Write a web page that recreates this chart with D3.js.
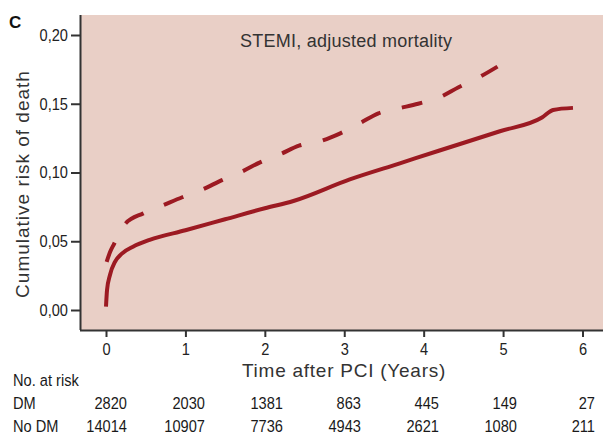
<!DOCTYPE html>
<html>
<head>
<meta charset="utf-8">
<script src="https://cdn.jsdelivr.net/npm/d3@7"></script>
<style>
  body { margin: 0; background: #fff; }
  #chart { font-family: "Liberation Sans", Arial, sans-serif; }
  .axis text { font-size: 17px; fill: #222; }
  .axis line, .axis .domain { stroke: #333; stroke-width: 2px; }
  .wide { fill: #333; }
  .line { fill: none; stroke: #9c1a22; stroke-width: 4px; }
  .risk text { font-size: 17px; fill: #1a1a1a; }
</style>
</head>
<body>
<svg id="chart" width="603" height="435"></svg>
<script>
// cumulative risk
const dmTime  = [0.008, 0.05, 0.105, 0.17, 0.24, 0.47, 0.71, 0.96, 1.22, 1.46, 1.71, 1.94, 2.2, 2.43, 2.71, 2.95, 3.2, 3.43, 3.69, 3.93, 4.2, 4.44, 4.69, 4.93];
const dmRisk  = [0.035, 0.042, 0.0485, 0.057, 0.0625, 0.0703, 0.076, 0.082, 0.0878, 0.0945, 0.1006, 0.1074, 0.1135, 0.1195, 0.123, 0.1285, 0.136, 0.143, 0.1467, 0.150, 0.1547, 0.162, 0.169, 0.177];
const noDmTime = [0, 0.013, 0.05, 0.113, 0.2, 0.34, 0.55, 1.0, 1.5, 2.0, 2.36, 3.07, 3.7, 4.2, 4.96, 5.49, 5.63, 5.88];
const noDmRisk = [0.0024, 0.0145, 0.0255, 0.035, 0.041, 0.046, 0.051, 0.058, 0.066, 0.074, 0.0793, 0.095, 0.1067, 0.116, 0.130, 0.140, 0.1455, 0.147];

const xTicks = [0, 1, 2, 3, 4, 5, 6];
const yTicks = [0, 0.05, 0.10, 0.15, 0.20];
const dmAtRisk = [2820, 2030, 1381, 863, 445, 149, 27];
const noDmAtRisk = [14014, 10907, 7736, 4943, 2621, 1080, 211];

const svg = d3.select('#chart');
const plot = {left: 80, top: 15, right: 603, bottom: 330};
const narrow = 0.86;   // the original uses a condensed face

const x = d3.scaleLinear().domain([0, 6]).range([106, 582.5]);
const y = d3.scaleLinear().domain([0, 0.20]).range([310, 35]);
// right edges of the at-risk columns
const col = d3.scaleLinear().domain([0, 6]).range([127, 595]);

svg.append('rect')
    .attr('x', plot.left).attr('y', plot.top)
    .attr('width', plot.right - plot.left).attr('height', plot.bottom - plot.top)
    .attr('fill', '#e9cfc6');

const fmt = d => d3.format('.2f')(d).replace('.', ',');

function squeeze(sel) {
    sel.each(function() {
        let t = d3.select(this);
        let tx = +t.attr('x') || 0, ty = +t.attr('y') || 0;
        t.attr('x', 0).attr('y', 0)
         .attr('transform', 'translate(' + tx + ',' + ty + ') scale(' + narrow + ',1)');
    });
}

let yAxis = svg.append('g').attr('class', 'axis')
    .attr('transform', 'translate(' + plot.left + ',0)')
    .call(d3.axisLeft(y).tickValues(yTicks).tickFormat(fmt).tickSize(9).tickPadding(3).tickSizeOuter(0));
yAxis.select('.domain').attr('d', 'M0.5,' + plot.top + 'V' + plot.bottom);
yAxis.selectAll('text').call(squeeze);

let xAxis = svg.append('g').attr('class', 'axis')
    .attr('transform', 'translate(0,' + plot.bottom + ')')
    .call(d3.axisBottom(x).tickValues(xTicks).tickFormat(d3.format('d')).tickSize(7).tickPadding(6).tickSizeOuter(0));
xAxis.select('.domain').attr('d', 'M' + plot.left + ',0.5H' + plot.right);
xAxis.selectAll('text').call(squeeze);

const line = d3.line()
    .x(d => x(d[0]))
    .y(d => y(d[1]))
    .curve(d3.curveMonotoneX);

svg.append('path').attr('class', 'line')
    .attr('d', line(d3.zip(noDmTime, noDmRisk)));
svg.append('path').attr('class', 'line')
    .attr('stroke-dasharray', '21,22')
    .attr('d', line(d3.zip(dmTime, dmRisk)));

// titles
svg.append('text')
    .attr('x', 9).attr('y', 28)
    .style('font-size', '17px').style('font-weight', 'bold').attr('fill', '#111')
    .text('C');
svg.append('text').attr('class', 'wide')
    .attr('x', 240).attr('y', 47)
    .style('font-size', '18px').style('letter-spacing', '0.25px')
    .text('STEMI, adjusted mortality');
svg.append('text').attr('class', 'wide')
    .attr('x', 344).attr('y', 377).attr('text-anchor', 'middle')
    .style('font-size', '19px').style('letter-spacing', '0.75px')
    .text('Time after PCI (Years)');
svg.append('text').attr('class', 'wide')
    .attr('transform', 'translate(29,184) rotate(-90)')
    .attr('text-anchor', 'middle')
    .style('font-size', '19px').style('letter-spacing', '1px')
    .text('Cumulative risk of death');

// number at risk table
const risk = svg.append('g').attr('class', 'risk');
risk.append('text').attr('x', 13).attr('y', 386).text('No. at risk');
risk.append('text').attr('x', 13).attr('y', 409).text('DM');
risk.append('text').attr('x', 13).attr('y', 432).text('No DM');
risk.selectAll('text.dm').data(dmAtRisk).enter()
    .append('text').attr('class', 'dm')
    .attr('text-anchor', 'end')
    .attr('x', (d, i) => col(xTicks[i]))
    .attr('y', 409)
    .text(d => d);
risk.selectAll('text.nodm').data(noDmAtRisk).enter()
    .append('text').attr('class', 'nodm')
    .attr('text-anchor', 'end')
    .attr('x', (d, i) => col(xTicks[i]))
    .attr('y', 432)
    .text(d => d);
risk.selectAll('text').call(squeeze);
</script>
</body>
</html>
